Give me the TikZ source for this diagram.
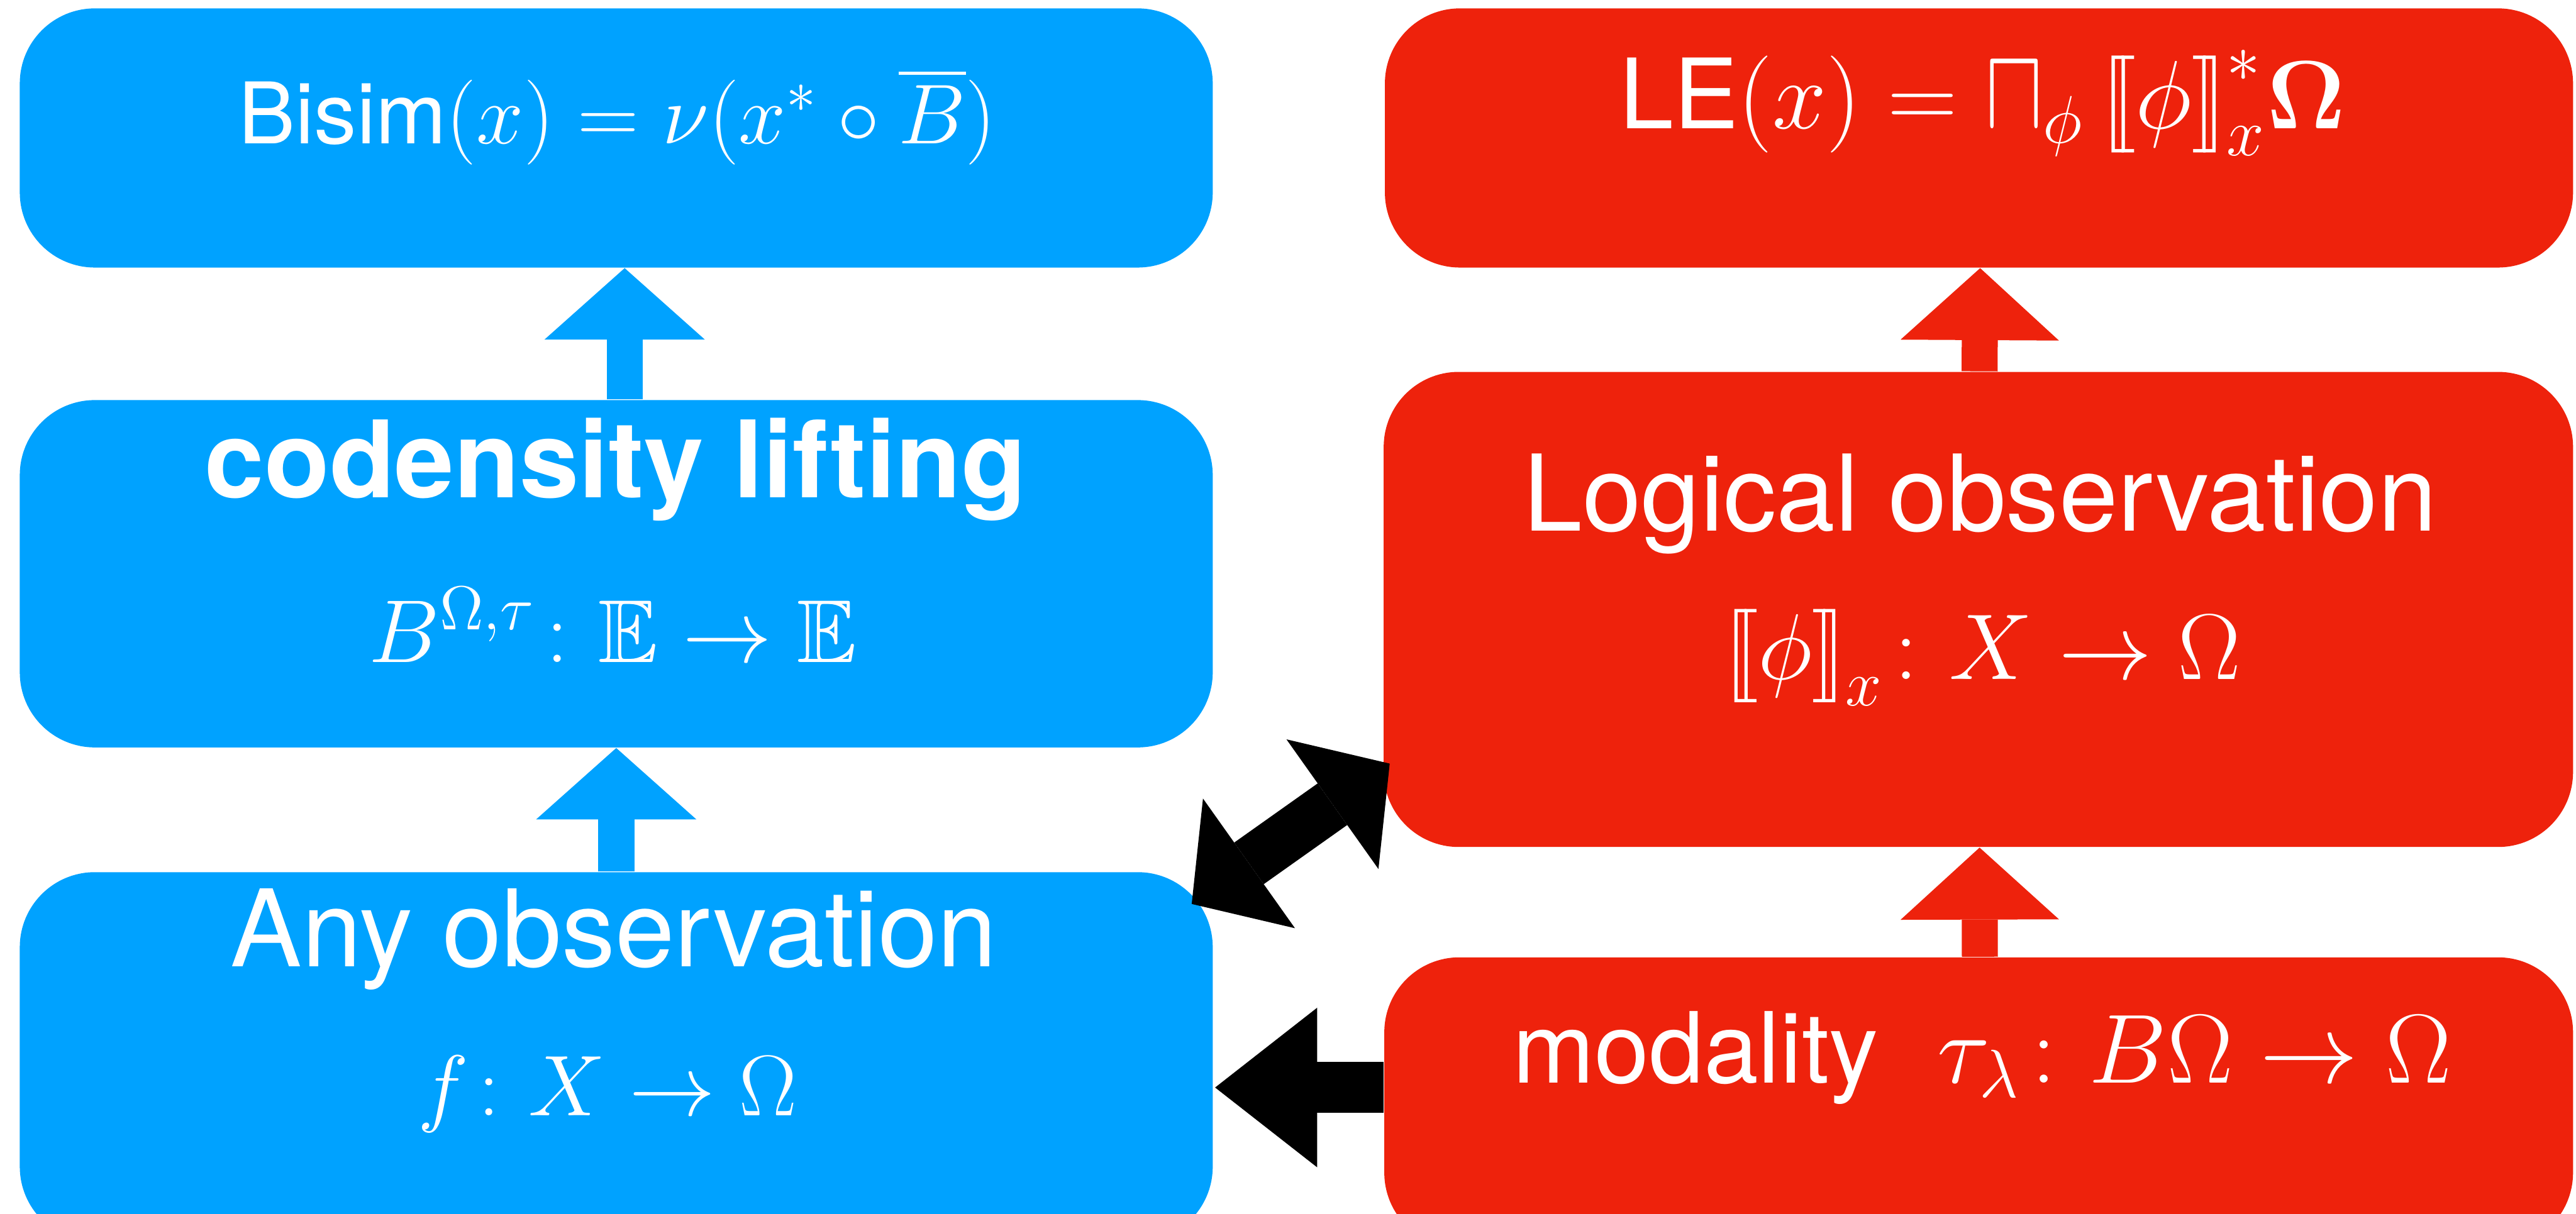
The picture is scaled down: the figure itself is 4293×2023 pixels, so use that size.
\documentclass[tikz,border=0pt]{standalone}
\usepackage{amsmath}
\usepackage{amssymb}
\usepackage{bm}
\usepackage[no-math]{fontspec}
\setmainfont{TeX Gyre Heros}
\usepackage{graphicx}
\usetikzlibrary{arrows.meta,calc}
\definecolor{kblue}{RGB}{0,162,255}
\definecolor{kred}{RGB}{238,34,12}
\newlength\pxu \setlength\pxu{0.2pt}
\newcommand{\sbl}{\mathopen{[\mkern-2.6mu[}}
\newcommand{\sbr}{\mathclose{]\mkern-2.6mu]}}
\newcommand{\fitw}[2]{\resizebox{#1\pxu}{!}{#2}}
\begin{document}
\begin{tikzpicture}[x=0.2pt,y=-0.2pt,
  box/.style={rectangle,rounded corners=25pt,inner sep=0pt,draw=none},
  bluebox/.style={box,fill=kblue},
  redbox/.style={box,fill=kred},
  lbl/.style={anchor=base,text=white,inner sep=0pt,font=\fontsize{17.28}{20}\selectfont},
  blueup/.style={kblue,line width=12pt,-{Triangle[length=23.8pt,width=53.4pt,line width=0pt]}},
  redup/.style={kred,line width=12pt,-{Triangle[length=24pt,width=52.8pt,line width=0pt]}},
  blkone/.style={black,line width=17pt,-{Triangle[length=34pt,width=53.2pt,line width=0pt]}},
  blktwo/.style={black,line width=17pt,{Triangle[length=23.4pt,width=53pt,line width=0pt]}-{Triangle[length=23.4pt,width=53pt,line width=0pt]}}
]
\useasboundingbox (0,0) rectangle (4293,2023);
\clip (0,0) rectangle (4293,2023);
\fill[white] (0,0) rectangle (4293,2023);

% boxes
\node[bluebox,minimum width=397.6pt,minimum height=86.4pt] (B1) at (1027,230) {};
\node[bluebox,minimum width=397.6pt,minimum height=115.8pt] (B2) at (1027,956.5) {};
\node[bluebox,minimum width=397.6pt,minimum height=123.2pt] (B3) at (1027,1762) {};
\node[redbox,minimum width=396pt,minimum height=86.4pt] (R1) at (3298,230) {};
\node[redbox,minimum width=396.4pt,minimum height=158.4pt] (R2) at (3297,1016) {};
\node[redbox,minimum width=396.2pt,minimum height=96.8pt] (R3) at (3297.5,1838) {};

% labels
\node[lbl] (t1) at (1029,239) {\fitw{1262}{$\text{Bisim}(x)=\nu(x^{*}\circ\overline{B})$}};
\node[lbl] (tr1) at (3304,214) {\fitw{1210}{$\text{LE}(x)=\mathop{\scalebox{0.9}[1.2]{$\sqcap$}}\nolimits_{\phi}\,\sbl\phi\sbr^{*}_{x}\bm{\Omega}$}};
\node[lbl] (t2a) at (1026,830) {\fitw{1369}{\bfseries codensity lifting}};
\node[lbl] (t2b) at (1021,1104) {\fitw{813}{$B^{\Omega,\tau}\colon\mathbb{E}\to\mathbb{E}$}};
\node[lbl] (t3a) at (1023,1611) {\fitw{1277}{Any observation}};
\node[lbl] (t3b) at (1012,1860) {\fitw{632}{$f\colon X\to\Omega$}};
\node[lbl] (tr2a) at (3300,885) {\fitw{1522}{Logical observation}};
\node[lbl] (tr2b) at (3304,1132) {\fitw{859}{$\sbl\phi\sbr_{x}\colon X\to\Omega$}};
\node[lbl] (tr3) at (3303,1805) {\fitw{1564}{modality\hspace{0.6em}$\tau_{\lambda}\colon B\Omega\to\Omega$}};

% connectors
\draw[blueup] ($(B2.north)+(14,0)$) -- ($(B1.south)+(14,0)$);
\draw[blueup] (B3.north) -- (B2.south);
\draw[redup] ($(R2.north)+(2,0)$) -- ($(R1.south)+(2,0)$);
\draw[redup] ($(R3.north)+(2,0)$) -- ($(R2.south)+(2,0)$);
\draw[blkone] ($(R3.west)+(0,-25)$) -- ($(B3.east)+(3,51)$);
\coordinate (dA) at (1986,1507);
\coordinate (dB) at (2316,1273);
\draw[blktwo] (dA) -- (dB);
\end{tikzpicture}
\end{document}
